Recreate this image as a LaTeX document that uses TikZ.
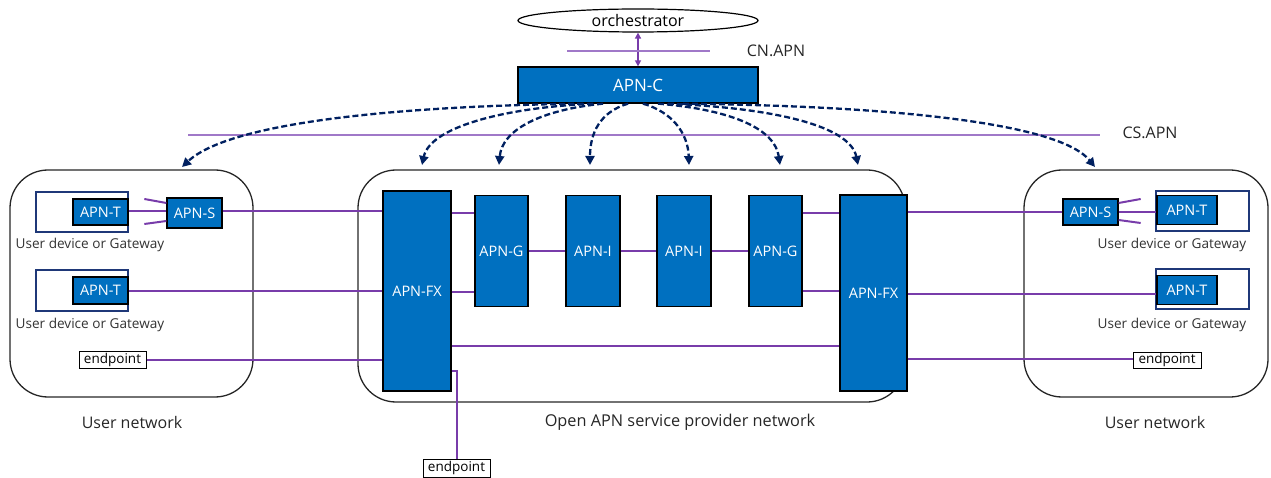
\documentclass[tikz,border=0pt]{standalone}
\usepackage{fontspec}
\setmainfont{Open Sans}
\usetikzlibrary{arrows.meta,shapes.geometric}
\definecolor{apnblue}{RGB}{0,112,192}
\definecolor{conn}{RGB}{120,60,170}
\definecolor{ifline}{RGB}{160,120,200}
\definecolor{navy}{RGB}{0,32,96}
\definecolor{devborder}{RGB}{31,56,120}
\begin{document}
\begin{tikzpicture}[x=1pt,y=-1pt,
  apn/.style={draw=black,line width=1.3pt,fill=apnblue,text=white,font=\fontsize{14.5}{16}\selectfont,inner sep=0pt},
  devbox/.style={draw=devborder,line width=1.8pt,fill=white,inner sep=0pt},
  netbox/.style={draw=black!85,line width=1.3pt,rounded corners=38pt,inner sep=0pt},
  epbox/.style={draw=black,line width=1pt,fill=white,font=\fontsize{13.5}{15}\selectfont,inner sep=0pt,minimum height=17pt},
  lbl/.style={font=\fontsize{13.6}{15}\selectfont,text=black!80,inner sep=0pt},
  netlbl/.style={font=\fontsize{16}{18}\selectfont,text=black!85,inner sep=0pt},
  link/.style={draw=conn,line width=2pt},
  ifl/.style={draw=ifline,line width=1.6pt},
  ctrl/.style={draw=navy,line width=2.3pt,dash pattern=on 6pt off 3pt,-{Triangle[length=9pt,width=9pt]}}
]
\useasboundingbox (0,0) rectangle (1271,478);

% network boxes
\node[netbox,minimum width=243pt,minimum height=227pt] (ul) at (131.5,283.5) {};
\node[netbox,minimum width=547pt,minimum height=232pt] (cen) at (631.5,286) {};
\node[netbox,minimum width=244pt,minimum height=227pt] (ur) at (1146,283.5) {};

\node[netlbl] (ullbl) at (132,422) {User network};
\node[netlbl,font=\fontsize{16.3}{18}\selectfont] (cenlbl) at (680,422) {Open APN service provider network};
\node[netlbl] (urlbl) at (1155,422) {User network};

% orchestrator and controller
\node[draw=black,line width=1.2pt,ellipse,minimum width=240pt,minimum height=23pt,inner sep=0pt,font=\fontsize{16}{18}\selectfont] (orch) at (638,20.5) {orchestrator};
\node[apn,minimum width=240pt,minimum height=36pt,font=\fontsize{17}{19}\selectfont] (apnc) at (638,85) {APN-C};
\draw[draw=conn,line width=1.5pt,{Triangle[length=6pt,width=6pt]}-{Triangle[length=6pt,width=6pt]}] (orch.south) -- (apnc.north);

% interface lines
\coordinate (cnA) at (567,51);
\coordinate (cnB) at (710,51);
\draw[ifl] (cnA) -- (cnB);
\node[netlbl] (cnlbl) at (776,51) {CN.APN};
\coordinate (csA) at (188,135);
\coordinate (csB) at (1100,135);
\draw[ifl] (csA) -- (csB);
\node[netlbl] (cslbl) at (1150,133) {CS.APN};

% left user network
\node[devbox,minimum width=92pt,minimum height=40pt] (dev1) at (82,212) {};
\node[apn,minimum width=55pt,minimum height=26pt] (t1) at (100.5,212) {APN-T};
\node[apn,minimum width=55pt,minimum height=30pt] (s1) at (194.5,213) {APN-S};
\node[lbl] (lbl1) at (90,245) {User device or Gateway};
\node[devbox,minimum width=92pt,minimum height=41pt] (dev2) at (82,290.5) {};
\node[apn,minimum width=55pt,minimum height=27pt] (t2) at (100.5,290.5) {APN-T};
\node[lbl] (lbl2) at (90,325) {User device or Gateway};
\node[epbox,minimum width=67pt] (ep1) at (112.5,360) {endpoint};

% centre
\node[apn,minimum width=68pt,minimum height=200pt] (fx1) at (417,291) {APN-FX};
\node[apn,minimum width=53pt,minimum height=111pt] (g1) at (501.5,251) {APN-G};
\node[apn,minimum width=54pt,minimum height=111pt] (i1) at (593,251) {APN-I};
\node[apn,minimum width=54pt,minimum height=111pt] (i2) at (684,251) {APN-I};
\node[apn,minimum width=53pt,minimum height=111pt] (g2) at (775.5,251) {APN-G};
\node[apn,minimum width=67pt,minimum height=196pt] (fx2) at (873.5,293) {APN-FX};
\node[epbox,minimum width=67pt,minimum height=18pt] (ep3) at (456.5,468) {endpoint};

% right user network
\node[apn,minimum width=55pt,minimum height=26pt] (s2) at (1090.5,212) {APN-S};
\node[devbox,minimum width=93pt,minimum height=40pt] (dev3) at (1202.5,211) {};
\node[apn,minimum width=60pt,minimum height=29pt] (t3) at (1187,210) {APN-T};
\node[lbl] (lbl3) at (1172,245) {User device or Gateway};
\node[devbox,minimum width=93pt,minimum height=40pt] (dev4) at (1202.5,289) {};
\node[apn,minimum width=60pt,minimum height=29pt] (t4) at (1187,290) {APN-T};
\node[lbl] (lbl4) at (1172,325) {User device or Gateway};
\node[epbox,minimum width=68pt,minimum height=16pt] (ep2) at (1167,360) {endpoint};

% links left
\draw[link] (t1.east |- 0,211) -- (s1.west |- 0,211);
\draw[link] (s1.west |- 0,203) -- ++(-22,-4);
\draw[link] (s1.west |- 0,221) -- ++(-22,3);
\draw[link] (s1.east |- 0,211) -- (fx1.west |- 0,211);
\draw[link] (t2.east |- 0,291) -- (fx1.west |- 0,291);
\draw[link] (ep1.east |- 0,360) -- (fx1.west |- 0,360);

% links centre
\draw[link] (fx1.east |- 0,213) -- (g1.west |- 0,213);
\draw[link] (fx1.east |- 0,292) -- (g1.west |- 0,292);
\draw[link] (g1) -- (i1);
\draw[link] (i1) -- (i2);
\draw[link] (i2) -- (g2);
\draw[link] (g2.east |- 0,213) -- (fx2.west |- 0,213);
\draw[link] (g2.east |- 0,291) -- (fx2.west |- 0,291);
\draw[link] (fx1.east |- 0,346) -- (fx2.west |- 0,346);
\draw[link] (fx1.east |- 0,371) -| (ep3.north);

% links right
\draw[link] (fx2.east |- 0,212) -- (s2.west |- 0,212);
\draw[link] (s2.east |- 0,212) -- (t3.west |- 0,212);
\draw[link] (s2.east |- 0,203) -- ++(22,-4);
\draw[link] (s2.east |- 0,220) -- ++(22,3);
\draw[link] (fx2.east |- 0,294) -- (t4.west |- 0,294);
\draw[link] (fx2.east |- 0,359) -- (ep2.west |- 0,359);

% control arrows
\coordinate (a1) at (182,167);
\coordinate (a2) at (422,165);
\coordinate (a3) at (499,165);
\coordinate (a4) at (590,165);
\coordinate (a5) at (689,165);
\coordinate (a6) at (780,165);
\coordinate (a7) at (858,165);
\coordinate (a8) at (1095,167);
\draw[ctrl] ([xshift=-55pt]apnc.south) .. controls (400,106) and (230,122) .. (a1);
\draw[ctrl] ([xshift=-45pt]apnc.south) .. controls (500,108) and (430,128) .. (a2);
\draw[ctrl] ([xshift=-35pt]apnc.south) .. controls (540,110) and (502,130) .. (a3);
\draw[ctrl] ([xshift=-10pt]apnc.south) .. controls (600,112) and (590,133) .. (a4);
\draw[ctrl] ([xshift=5pt]apnc.south) .. controls (672,112) and (688,133) .. (a5);
\draw[ctrl] ([xshift=20pt]apnc.south) .. controls (735,110) and (775,130) .. (a6);
\draw[ctrl] ([xshift=30pt]apnc.south) .. controls (775,108) and (850,126) .. (a7);
\draw[ctrl] ([xshift=45pt]apnc.south) .. controls (900,106) and (1060,124) .. (a8);
\end{tikzpicture}
\end{document}
